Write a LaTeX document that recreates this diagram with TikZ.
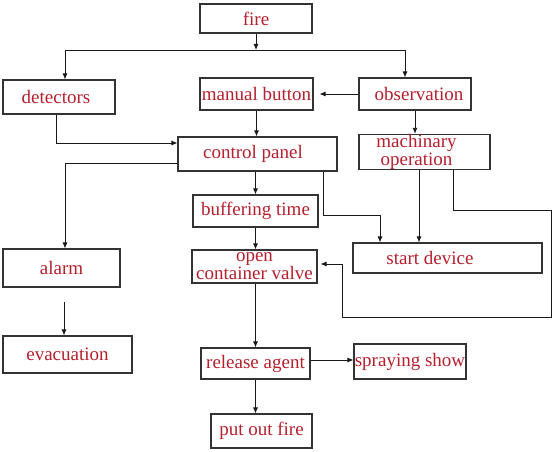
\documentclass[tikz,border=0pt]{standalone}
\usepackage{fontspec}
\setmainfont{Liberation Serif}
\usetikzlibrary{arrows.meta}
\definecolor{txtred}{HTML}{B5202E}
\begin{document}
\begin{tikzpicture}[x=1pt,y=-1pt,
  box/.style={draw=black!80, line width=1.1pt, inner sep=0pt, text=txtred,
    font=\fontsize{19}{18}\selectfont, align=center},
  arr/.style={-{Latex[length=6pt,width=5pt]}, line width=0.9pt, draw=black!90},
  ln/.style={line width=0.9pt, draw=black!90}]
\useasboundingbox[fill=white] (0,0) rectangle (554,452);

% boxes
\node[box, minimum width=112pt, minimum height=29pt] (fire) at (256,18.5) {fire};
\node[box, minimum width=112pt, minimum height=34pt] (det) at (59,97) {detectors\hspace*{6pt}};
\node[box, minimum width=113pt, minimum height=32pt] (man) at (256.5,94) {manual button};
\node[box, minimum width=112pt, minimum height=32pt] (obs) at (415,94) {\hspace*{8pt}observation};
\node[box, minimum width=159pt, minimum height=34pt] (cp) at (257.5,154) {control panel\hspace*{9pt}};
\node[box, minimum width=131pt, minimum height=34pt] (mach) at (424.5,152) {machinary\hspace*{16pt}\\operation\hspace*{16pt}};
\node[box, minimum width=125pt, minimum height=32pt] (buf) at (255.5,211) {buffering time};
\node[box, minimum width=125pt, minimum height=33pt] (open) at (254.5,266.5) {open\\container valve};
\node[box, minimum width=117pt, minimum height=38pt] (alarm) at (61.5,268) {alarm};
\node[box, minimum width=129pt, minimum height=37pt] (evac) at (67.5,354.5) {evacuation};
\node[box, minimum width=189pt, minimum height=30pt] (start) at (447.5,258) {start device\hspace*{35pt}};
\node[box, minimum width=109pt, minimum height=31pt] (rel) at (255.5,363.5) {release agent};
\node[box, minimum width=112pt, minimum height=35pt] (spray) at (410,361.5) {spraying show};
\node[box, minimum width=101pt, minimum height=34pt] (put) at (261.5,431) {put out fire};

% helper coordinates
\coordinate (barL) at (65,50);
\coordinate (barR) at (405,50);
\coordinate (dturn) at (56,143);
\coordinate (cleft) at (65,163);
\coordinate (cr1) at (323,215);
\coordinate (cr2) at (380,215);
\coordinate (ms) at (419,200);
\coordinate (l1) at (453,210);
\coordinate (l2) at (551,210);
\coordinate (l3) at (551,317);
\coordinate (l4) at (342,317);
\coordinate (l5) at (342,264);
\coordinate (ae) at (64,300);
\coordinate (rs) at (0,360);

% connectors
\draw[arr] (fire.south) -- (fire.south |- barL);
\draw[ln] (barL) -- (barR);
\draw[arr] (barL) -- (barL |- det.north);
\draw[arr] (barR) -- (barR |- obs.north);
\draw[arr, shorten >=6pt] (obs.west) -- (man.east);
\draw[arr] (man.south) -- (man.south |- cp.north);
\draw[arr] (det.south -| dturn) |- (cp.west |- dturn);
\draw[arr] (cp.west |- cleft) -| (alarm.north -| cleft);
\draw[arr] (cp.south -| buf.north) -- (buf.north);
\draw[arr] (cp.south -| cr1) -- (cr1) -- (cr2) -- (start.north -| cr2);
\draw[arr] (obs.south) -- (obs.south |- mach.north);
\draw[arr] (mach.south -| ms) -- (start.north -| ms);
\draw[arr, shorten >=3pt] (mach.south -| l1) -- (l1) -- (l2) -- (l3) -- (l4) -- (l5) -- (open.east |- l5);
\draw[arr] (buf.south) -- (buf.south |- open.north);
\draw[arr, shorten <=14pt] (alarm.south -| ae) -- (evac.north -| ae);
\draw[arr] (open.south -| rel.north) -- (rel.north);
\draw[arr] (rel.east |- rs) -- (spray.west |- rs);
\draw[arr] (rel.south) -- (rel.south |- put.north);
\end{tikzpicture}
\end{document}
